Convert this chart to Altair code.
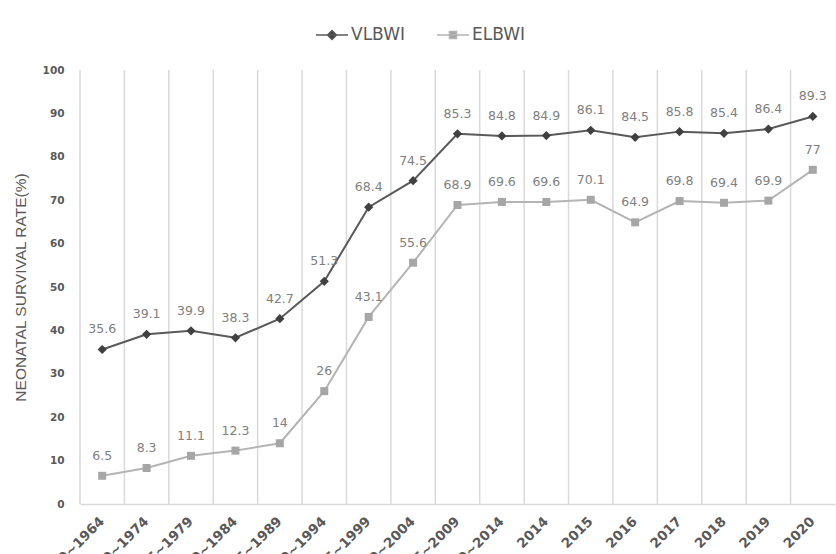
import altair as alt
import pandas as pd

periods = ["1960~1964", "1970~1974", "1975~1979", "1980~1984", "1985~1989",
           "1990~1994", "1995~1999", "2000~2004", "2005~2009", "2010~2014",
           "2014", "2015", "2016", "2017", "2018", "2019", "2020"]
vlbwi = [35.6, 39.1, 39.9, 38.3, 42.7, 51.3, 68.4, 74.5, 85.3, 84.8, 84.9,
         86.1, 84.5, 85.8, 85.4, 86.4, 89.3]
elbwi = [6.5, 8.3, 11.1, 12.3, 14, 26, 43.1, 55.6, 68.9, 69.6, 69.6, 70.1,
         64.9, 69.8, 69.4, 69.9, 77]
series = ["VLBWI", "ELBWI"]
y_ticks = list(range(0, 101, 10))

rows = []
for i, p in enumerate(periods):
    rows.append({"period": p, "series": "VLBWI", "rate": vlbwi[i]})
    rows.append({"period": p, "series": "ELBWI", "rate": elbwi[i]})
df = pd.DataFrame(rows)
grid_df = pd.DataFrame({"period": periods})

FONT = "Liberation Sans"
WIDE = "DejaVu Sans"
xscale = alt.Scale(paddingInner=0, paddingOuter=0)
yscale = alt.Scale(domain=[0, 100])

x_enc = alt.X("period:N", sort=periods, scale=xscale,
              axis=alt.Axis(title=None, labelAngle=-45, grid=False, ticks=False,
                            domainColor="#d9d9d9", domainWidth=1.5,
                            labelFontSize=13.5, labelFontWeight="bold",
                            labelColor="#595959", labelPadding=15, labelFont=WIDE))
y_enc = alt.Y("rate:Q", scale=yscale,
              axis=alt.Axis(title="NEONATAL SURVIVAL RATE(%)", values=y_ticks,
                            grid=False, ticks=False, domain=False,
                            labelFontSize=10.5, labelFontWeight="bold",
                            labelColor="#595959", labelPadding=16, labelFont=WIDE,
                            titleFont=FONT, titleFontSize=15.5, titleFontWeight="normal",
                            titleColor="#595959", titlePadding=14))

grid = alt.Chart(grid_df).mark_rule(color="#d9d9d9", strokeWidth=1.5).encode(
    x=alt.X("period:N", sort=periods, scale=xscale, bandPosition=0),
    y=alt.YDatum(0),
    y2=alt.Y2Datum(100),
)

stroke_scale = alt.Scale(domain=series, range=["#595959", "#b4b4b4"])
fill_scale = alt.Scale(domain=series, range=["#404040", "#a6a6a6"])
shape_scale = alt.Scale(domain=series,
                        range=["M-1.6,0H1.6M0,-0.45L0.45,0L0,0.45L-0.45,0Z",
                               "M-1.6,0H1.6M-0.35,-0.35H0.35V0.35H-0.35Z"])
legend = alt.Legend(title=None, orient="none", legendX=241, legendY=-46,
                    direction="horizontal", labelFontSize=17, labelColor="#595959",
                    labelFont=WIDE, symbolSize=400, labelOffset=8,
                    columnPadding=29, symbolStrokeWidth=1.5, symbolOpacity=1)

# legend-only layer: invisible marks, legend built from the explicit scale domains
legend_layer = alt.Chart(df).mark_point(filled=True, strokeWidth=1.5, opacity=0).encode(
    x=x_enc, y=y_enc,
    stroke=alt.Stroke("series:N", scale=stroke_scale, legend=legend),
    fill=alt.Fill("series:N", scale=fill_scale, legend=legend),
    shape=alt.Shape("series:N", scale=shape_scale, legend=legend),
)

base = alt.Chart(df)
lines = base.mark_line(strokeWidth=2).encode(
    x=x_enc, y=y_enc, stroke=alt.Stroke("series:N", scale=stroke_scale, legend=legend))
pts_v = base.transform_filter(alt.datum.series == "VLBWI").mark_point(
    filled=True, shape="diamond", size=85, opacity=1, color="#404040").encode(x=x_enc, y=y_enc)
pts_e = base.transform_filter(alt.datum.series == "ELBWI").mark_point(
    filled=True, shape="square", size=64, opacity=1, color="#a6a6a6").encode(x=x_enc, y=y_enc)
labels = base.mark_text(dy=-20, fontSize=12.5, color="#808080", font=WIDE).encode(
    x=x_enc, y=y_enc, text=alt.Text("rate:Q"))

chart = alt.layer(grid, lines, pts_v, pts_e, labels, legend_layer).properties(
    width=755, height=434,
    autosize=alt.AutoSizeParams(type="none"),
    padding={"left": 80, "top": 70, "right": 1, "bottom": 50},
    background="white",
).configure_view(stroke=None)

chart.save("out.html", embed_options={"renderer": "svg", "actions": False})
